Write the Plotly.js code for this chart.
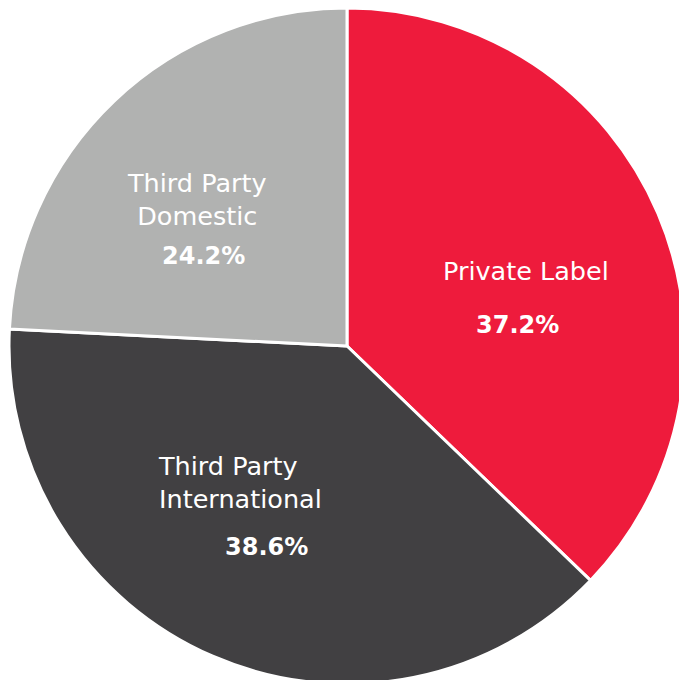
<!DOCTYPE html>
<html>
<head>
<meta charset="utf-8">
<script src="https://cdn.plot.ly/plotly-3.0.1.min.js"></script>
<style>
html,body{margin:0;padding:0;overflow:hidden;background:#fff;width:679px;height:680px;}
#chart{width:685px;height:684px;}
</style>
</head>
<body>
<div id="chart"></div>
<script>
const categories = ["Private Label", "Third Party International", "Third Party Domestic"];
const values = [37.2, 38.6, 24.2];
const nameLines = ["Private Label", "Third Party<br>International", "Third Party<br>Domestic"];
const colors = ["#EE1B3C", "#414042", "#B1B2B1"];

// label placement (paper coords) for names and percentages
const namePos = [
  {x: 0.7648, y: 0.6109, xanchor: "center", align: "center"},
  {x: 0.2175, y: 0.2981, xanchor: "left", align: "left"},
  {x: 0.2781, y: 0.7167, xanchor: "center", align: "center"}
];
const pctPos = [
  {x: 0.7515, y: 0.5311},
  {x: 0.3802, y: 0.2027},
  {x: 0.2870, y: 0.6331}
];

const fontFam = "DejaVu Sans, sans-serif";
const annotations = [];
categories.forEach((c, i) => {
  annotations.push({
    xref: "paper", yref: "paper", x: namePos[i].x, y: namePos[i].y,
    xanchor: namePos[i].xanchor, yanchor: "middle", align: namePos[i].align,
    text: nameLines[i], showarrow: false,
    font: {family: fontFam, size: 25.5, color: "#ffffff"}
  });
  annotations.push({
    xref: "paper", yref: "paper", x: pctPos[i].x, y: pctPos[i].y,
    xanchor: "center", yanchor: "middle",
    text: "<b>" + values[i].toFixed(1) + "%</b>", showarrow: false,
    font: {family: fontFam, size: 24, color: "#ffffff"}
  });
});

const data = [{
  type: "pie",
  labels: categories,
  values: values,
  sort: false,
  direction: "clockwise",
  rotation: 0,
  textinfo: "none",
  hoverinfo: "none",
  marker: {colors: colors, line: {color: "#ffffff", width: 3}},
  showlegend: false
}];

const layout = {
  width: 685, height: 684,
  margin: {l: 9, r: 0, t: 8, b: 0, pad: 0},
  paper_bgcolor: "#ffffff",
  showlegend: false,
  annotations: annotations
};

Plotly.newPlot("chart", data, layout, {staticPlot: true, displayModeBar: false});
</script>
</body>
</html>
